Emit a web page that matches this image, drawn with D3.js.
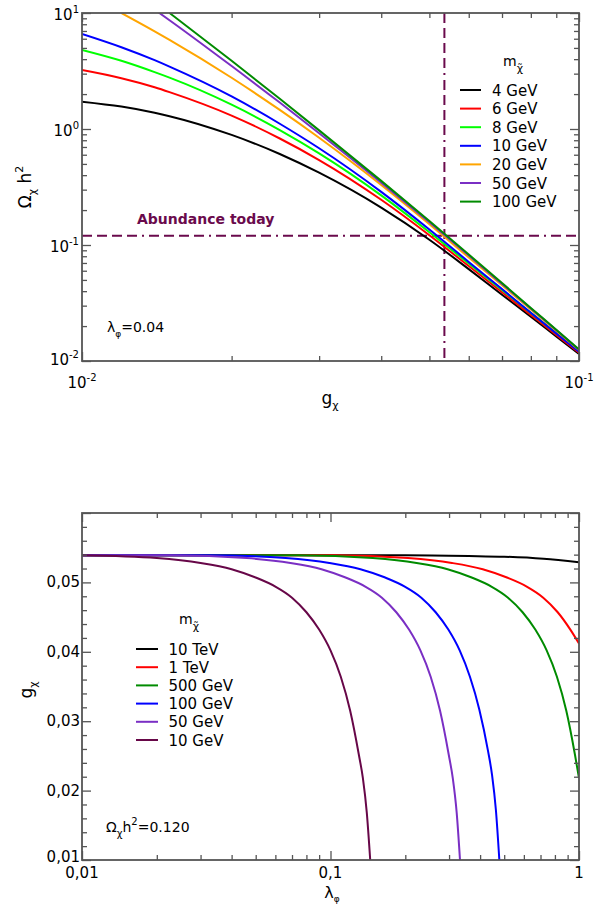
<!DOCTYPE html>
<html>
<head>
<meta charset="utf-8">
<script src="https://cdn.jsdelivr.net/npm/d3@7"></script>
<style>
  body { margin: 0; background: #fff; }
  svg text { font-family: "DejaVu Sans", sans-serif; fill: #000; }
</style>
</head>
<body>
<svg id="chart" width="597" height="905"></svg>
<script>
// ---------- top panel: Omega h^2 vs g_chi (lambda_phi = 0.04) ----------
const gTop      = [0.01, 0.012, 0.014, 0.015, 0.02, 0.025, 0.03, 0.04, 0.05, 0.06, 0.07, 0.08, 0.09, 0.1];
const omega4    = [1.72, 1.56, 1.38, 1.29, 0.889, 0.609, 0.42, 0.21, 0.111, 0.062, 0.0373, 0.0241, 0.0163, 0.0115];
const omega6    = [3.22, 2.74, 2.29, 2.08, 1.305, 0.828, 0.54, 0.2455, 0.1215, 0.0658, 0.0392, 0.025, 0.0168, 0.0118];
const omega8    = [4.8, 3.87, 3.09, 2.77, 1.62, 0.98, 0.617, 0.268, 0.129, 0.0692, 0.041, 0.026, 0.0174, 0.0122];
const omega10   = [6.6, 5.07, 3.92, 3.45, 1.91, 1.11, 0.682, 0.287, 0.136, 0.0715, 0.0417, 0.0261, 0.0173, 0.012];
const omega20   = [null, 10.0, 6.95, 5.87, 2.765, 1.46, 0.84, 0.329, 0.151, 0.0781, 0.0449, 0.0278, 0.0182, 0.0124];
const omega50   = [null, null, 10.7, 8.67, 3.49, 1.69, 0.918, 0.344, 0.157, 0.0813, 0.0462, 0.0284, 0.0185, 0.0125];
const omega100  = [null, null, null, 10.0, 3.87, 1.82, 0.973, 0.357, 0.161, 0.0828, 0.047, 0.0287, 0.0186, 0.0126];
const topSeries = [omega4, omega6, omega8, omega10, omega20, omega50, omega100];
const topLabels = ["4 GeV", "6 GeV", "8 GeV", "10 GeV", "20 GeV", "50 GeV", "100 GeV"];
const topColors = ["#000000", "#ff0000", "#00ff00", "#0000ff", "#ffa500", "#7a2fc4", "#008b00"];
const omegaToday = 0.12;
const gToday = 0.0536;

// ---------- bottom panel: g_chi vs lambda_phi at Omega h^2 = 0.120 ----------
const lam10TeV  = [0.01, 0.1, 0.2, 0.36, 0.5, 0.72, 1];
const g10TeV    = [0.0539, 0.0539, 0.0539, 0.0538, 0.0537, 0.0534, 0.0529];
const lam1TeV   = [0.01, 0.1026, 0.205, 0.308, 0.41, 0.513, 0.616, 0.718, 0.821, 0.923, 1];
const g1TeV     = [0.0539, 0.0539, 0.0535, 0.0528, 0.0519, 0.0507, 0.0494, 0.0478, 0.0457, 0.0432, 0.0412];
const lam500GeV = [0.01, 0.074, 0.148, 0.222, 0.296, 0.37, 0.444, 0.518, 0.593, 0.667, 0.741, 0.815, 0.889, 0.963, 1];
const g500GeV   = [0.0539, 0.0539, 0.0535, 0.0528, 0.0519, 0.0507, 0.0494, 0.0478, 0.0457, 0.0432, 0.0402, 0.0364, 0.0315, 0.0252, 0.0218];
const lam100GeV = [0.01, 0.033, 0.066, 0.099, 0.132, 0.166, 0.199, 0.232, 0.265, 0.298, 0.331, 0.364, 0.397, 0.43, 0.447, 0.463, 0.478];
const g100GeV   = [0.0539, 0.0539, 0.0535, 0.0528, 0.0519, 0.0507, 0.0494, 0.0478, 0.0457, 0.0432, 0.0402, 0.0364, 0.0317, 0.0258, 0.0222, 0.0172, 0.0100];
const lam50GeV  = [0.01, 0.023, 0.046, 0.069, 0.092, 0.115, 0.138, 0.161, 0.184, 0.207, 0.23, 0.253, 0.276, 0.299, 0.3105, 0.322, 0.332];
const g50GeV    = [0.0539, 0.0539, 0.0535, 0.0528, 0.0519, 0.0507, 0.0494, 0.0478, 0.0457, 0.0432, 0.0402, 0.0364, 0.0315, 0.0252, 0.0218, 0.0168, 0.0100];
const lam10GeV  = [0.01, 0.02, 0.03, 0.04, 0.05, 0.06, 0.07, 0.08, 0.09, 0.1, 0.11, 0.12, 0.13, 0.135, 0.14, 0.1445];
const g10GeV    = [0.0539, 0.0535, 0.0528, 0.0519, 0.0507, 0.0494, 0.0478, 0.0457, 0.0432, 0.0402, 0.0364, 0.0315, 0.0252, 0.0218, 0.0168, 0.0100];
const botLam    = [lam10TeV, lam1TeV, lam500GeV, lam100GeV, lam50GeV, lam10GeV];
const botG      = [g10TeV, g1TeV, g500GeV, g100GeV, g50GeV, g10GeV];
const botLabels = ["10 TeV", "1 TeV", "500 GeV", "100 GeV", "50 GeV", "10 GeV"];
const botColors = ["#000000", "#ff0000", "#008b00", "#0000ff", "#7a2fc4", "#670748"];

const MAROON = "#6a0a4c";
const AXIS = "#555";
const svg = d3.select("#chart");

// inward ticks on all four sides
function drawTicks(g, x, y, xMajor, xMinor, yMajor, yMinor) {
  const [x0, x1] = x.range(), [y0, y1] = y.range();
  const sides = [
    [d3.axisBottom(x), `translate(0,${y0})`, xMajor, xMinor],
    [d3.axisTop(x), `translate(0,${y1})`, xMajor, xMinor],
    [d3.axisLeft(y), `translate(${x0},0)`, yMajor, yMinor],
    [d3.axisRight(y), `translate(${x1},0)`, yMajor, yMinor]
  ];
  sides.forEach(([ax, tr, maj, min]) => {
    [[maj, 9], [min, 5]].forEach(([vals, len]) => {
      const a = g.append("g").attr("transform", tr)
        .call(ax.tickValues(vals).tickSize(-len).tickSizeOuter(0).tickFormat(""));
      a.select(".domain").remove();
      a.selectAll("line").attr("stroke", AXIS).attr("stroke-width", 1.3);
    });
  });
  g.append("rect")
    .attr("x", x0).attr("y", y1).attr("width", x1 - x0).attr("height", y0 - y1)
    .attr("fill", "none").attr("stroke", AXIS).attr("stroke-width", 1.8);
}

function pow10Label(g, x, y, exp, anchor) {
  const t = g.append("text").attr("x", x).attr("y", y)
    .attr("text-anchor", anchor).style("font-size", "15px");
  t.append("tspan").text("10");
  t.append("tspan").attr("dy", -7).style("font-size", "10px").text(exp);
}

function clip(id, x, y) {
  svg.append("clipPath").attr("id", id).append("rect")
    .attr("x", x.range()[0]).attr("y", y.range()[1])
    .attr("width", x.range()[1] - x.range()[0]).attr("height", y.range()[0] - y.range()[1]);
}

function massTitle(g, x, y) {
  const t = g.append("text").attr("x", x).attr("y", y).style("font-size", "14px");
  t.append("tspan").text("m");
  t.append("tspan").attr("dy", 6).style("font-size", "11px").text("χ̃");
}

// ================= TOP PANEL =================
const xTop = d3.scaleLog().domain([0.01, 0.1]).range([82, 579]);
const yTop = d3.scaleLog().domain([0.01, 10]).range([361, 13]);
clip("clipTop", xTop, yTop);
const topPanel = svg.append("g");

const topXMinor = d3.range(2, 10).map(k => k * 0.01);
const topYMinor = [];
[0.01, 0.1, 1].forEach(d => d3.range(2, 10).forEach(k => topYMinor.push(k * d)));

const refDash = "10,5,10,5,10,5,10,5,2,5";
const plotTop = topPanel.append("g").attr("clip-path", "url(#clipTop)");
plotTop.append("line")
  .attr("x1", xTop(0.01)).attr("x2", xTop(0.1))
  .attr("y1", yTop(omegaToday)).attr("y2", yTop(omegaToday))
  .attr("stroke", MAROON).attr("stroke-width", 2).attr("stroke-dasharray", refDash);
plotTop.append("line")
  .attr("x1", xTop(gToday)).attr("x2", xTop(gToday))
  .attr("y1", yTop(10)).attr("y2", yTop(0.01))
  .attr("stroke", MAROON).attr("stroke-width", 2).attr("stroke-dasharray", refDash);

const lineTop = d3.line()
  .defined(d => d[1] != null)
  .x(d => xTop(d[0])).y(d => yTop(d[1]))
  .curve(d3.curveMonotoneX);
topSeries.forEach((s, i) => {
  plotTop.append("path")
    .datum(gTop.map((g, j) => [g, s[j]]))
    .attr("d", lineTop)
    .attr("fill", "none").attr("stroke", topColors[i]).attr("stroke-width", 2);
});

drawTicks(topPanel, xTop, yTop, [0.01, 0.1], topXMinor, [0.01, 0.1, 1, 10], topYMinor);

[[0.1, "-1"], [1, "0"], [10, "1"]].forEach(([v, e]) =>
  pow10Label(topPanel, 79, yTop(v) + 7, e, "end"));
pow10Label(topPanel, 79, yTop(0.01) + 4, "-2", "end");
[[0.01, "-2"], [0.1, "-1"]].forEach(([v, e]) =>
  pow10Label(topPanel, xTop(v), 388, e, "middle"));

// axis titles
const gx = topPanel.append("text").attr("x", 330).attr("y", 404)
  .attr("text-anchor", "middle").style("font-size", "17px");
gx.append("tspan").text("g");
gx.append("tspan").attr("dy", 5).style("font-size", "11px").text("χ");

const oy = topPanel.append("text").attr("transform", "translate(31,187) rotate(-90)")
  .attr("text-anchor", "middle").style("font-size", "17px");
oy.append("tspan").text("Ω");
oy.append("tspan").attr("dy", 5).style("font-size", "11px").text("χ");
oy.append("tspan").attr("dy", -5).text(" h");
oy.append("tspan").attr("dy", -8).style("font-size", "11px").text("2");

topPanel.append("text").attr("x", 137).attr("y", 224)
  .style("font-size", "14px").style("font-weight", "bold").style("fill", MAROON)
  .text("Abundance today");

const lam = topPanel.append("text").attr("x", 107).attr("y", 332).style("font-size", "14px");
lam.append("tspan").text("λ");
lam.append("tspan").attr("dy", 5).style("font-size", "9px").text("φ");
lam.append("tspan").attr("dy", -5).text("=0.04");

// legend
const legTop = topPanel.append("g");
massTitle(legTop, 503, 66);
topLabels.forEach((lab, i) => {
  const yy = 90 + i * 18.6;
  legTop.append("line").attr("x1", 460).attr("x2", 481).attr("y1", yy).attr("y2", yy)
    .attr("stroke", topColors[i]).attr("stroke-width", 2);
  legTop.append("text").attr("x", 492).attr("y", yy + 5.5).style("font-size", "15px").text(lab);
});

// ================= BOTTOM PANEL =================
const xBot = d3.scaleLog().domain([0.01, 1]).range([82, 579]);
const yBot = d3.scaleLinear().domain([0.01, 0.06]).range([860, 513]);
clip("clipBot", xBot, yBot);
const botPanel = svg.append("g");

const botXMinor = [];
[0.01, 0.1].forEach(d => d3.range(2, 10).forEach(k => botXMinor.push(k * d)));
const botYMajor = d3.range(1, 7).map(k => k * 0.01);
const botYMinor = d3.range(5, 30).filter(k => k % 5 !== 0).map(k => k * 0.002);

const plotBot = botPanel.append("g").attr("clip-path", "url(#clipBot)");
const lineBot = d3.line().x(d => xBot(d[0])).y(d => yBot(d[1])).curve(d3.curveMonotoneX);
botLam.forEach((ls, i) => {
  plotBot.append("path")
    .datum(ls.map((l, j) => [l, botG[i][j]]))
    .attr("d", lineBot)
    .attr("fill", "none").attr("stroke", botColors[i]).attr("stroke-width", 2);
});

drawTicks(botPanel, xBot, yBot, [0.01, 0.1, 1], botXMinor, botYMajor, botYMinor);

const fmt2 = d3.format(".2f");
[0.01, 0.02, 0.03, 0.04, 0.05].forEach(v =>
  botPanel.append("text").attr("x", 80).attr("y", yBot(v) + (v === 0.01 ? 2 : 5))
    .attr("text-anchor", "end").style("font-size", "15px")
    .text(fmt2(v).replace(".", ",")));
[[0.01, "0,01"], [0.1, "0,1"], [1, "1"]].forEach(([v, t]) =>
  botPanel.append("text").attr("x", xBot(v)).attr("y", 878)
    .attr("text-anchor", "middle").style("font-size", "15px").text(t));

const lx = botPanel.append("text").attr("x", 332).attr("y", 898)
  .attr("text-anchor", "middle").style("font-size", "16px");
lx.append("tspan").text("λ");
lx.append("tspan").attr("dy", 4).style("font-size", "9px").text("φ");

const gy = botPanel.append("text").attr("transform", "translate(32,690) rotate(-90)")
  .attr("text-anchor", "middle").style("font-size", "17px");
gy.append("tspan").text("g");
gy.append("tspan").attr("dy", 5).style("font-size", "11px").text("χ");

const om = botPanel.append("text").attr("x", 106).attr("y", 832).style("font-size", "14px");
om.append("tspan").text("Ω");
om.append("tspan").attr("dy", 5).style("font-size", "10px").text("χ");
om.append("tspan").attr("dy", -5).text("h");
om.append("tspan").attr("dy", -7).style("font-size", "10px").text("2");
om.append("tspan").attr("dy", 7).text("=0.120");

const legBot = botPanel.append("g");
massTitle(legBot, 179, 624);
botLabels.forEach((lab, i) => {
  const yy = 649 + i * 18.2;
  legBot.append("line").attr("x1", 136).attr("x2", 158).attr("y1", yy).attr("y2", yy)
    .attr("stroke", botColors[i]).attr("stroke-width", 2);
  legBot.append("text").attr("x", 168.5).attr("y", yy + 5.5).style("font-size", "15px").text(lab);
});
</script>
</body>
</html>
